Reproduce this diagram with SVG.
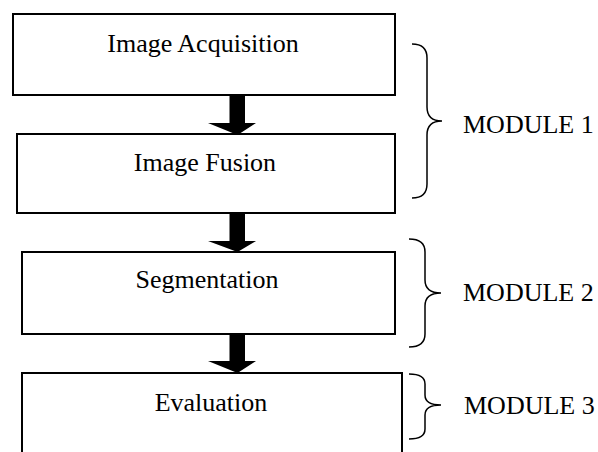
<svg xmlns="http://www.w3.org/2000/svg" width="598" height="452" viewBox="0 0 598 452">
<style>
.box{fill:#fff;stroke:#000;stroke-width:2}
.t{font-family:"Liberation Serif","Times New Roman",serif;font-size:26px;fill:#000}
.br{fill:none;stroke:#000;stroke-width:1.5}
.ar{fill:#000}
</style>
<rect width="598" height="452" fill="#fff"/>
<g id="n1"><rect class="box" x="13" y="14" width="382" height="81"/><text class="t" x="203" y="52" text-anchor="middle">Image Acquisition</text></g>
<g id="n2"><rect class="box" x="17" y="134" width="378" height="79"/><text class="t" x="205" y="171" text-anchor="middle">Image Fusion</text></g>
<g id="n3"><rect class="box" x="22" y="252" width="373" height="82"/><text class="t" x="207" y="288" text-anchor="middle">Segmentation</text></g>
<g id="n4"><path class="box" d="M22,455 V373 H402 V455"/><text class="t" x="211" y="411" text-anchor="middle">Evaluation</text></g>
<g id="connectors">
<polygon class="ar" points="229.5,95 245,95 245,123 256,123 237.5,135 208,123 229.5,123"/>
<polygon class="ar" points="229.5,213 245,213 245,241 256,241 237.5,252 208,241 229.5,241"/>
<polygon class="ar" points="229.5,334 245,334 245,361 256,361 237.5,373 208,361 229.5,361"/>
</g>
<g id="m1"><path class="br" d="M412,44 Q427,44 427,58 V107 Q427,121 442,121 Q427,121 427,135 V184 Q427,198 412,198"/><text class="t" x="463" y="133">MODULE 1</text></g>
<g id="m2"><path class="br" d="M409,239 Q425,239 425,252 V280 Q425,293 441,293 Q425,293 425,306 V334 Q425,347 409,347"/><text class="t" x="463" y="301">MODULE 2</text></g>
<g id="m3"><path class="br" d="M409,374 Q425,374 425,384 V395 Q425,405 441,405 Q425,405 425,415 V429 Q425,439 409,439"/><text class="t" x="464" y="414">MODULE 3</text></g>
</svg>
